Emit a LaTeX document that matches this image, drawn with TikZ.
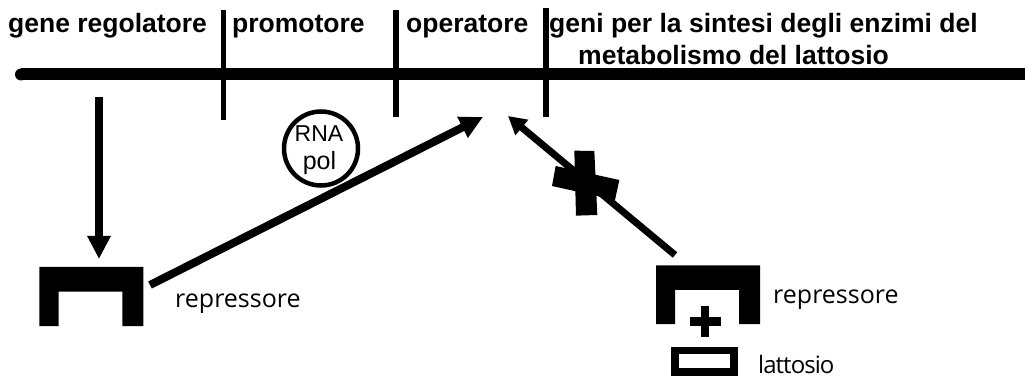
\documentclass[tikz,border=0pt]{standalone}
\usepackage{fontspec}
\setmainfont{Liberation Sans}
\newfontfamily\lblfont{Open Sans}
\newfontfamily\lblfonttight[LetterSpace=-4]{Open Sans}
\usetikzlibrary{arrows.meta}
\tikzset{
 head/.style={font=\bfseries\fontsize{26.5pt}{30pt}\selectfont,anchor=base west,inner sep=0},
 lbl/.style={font=\lblfont\fontsize{25pt}{28pt}\selectfont,anchor=base west,inner sep=0},
 lblsmall/.style={font=\lblfonttight\fontsize{24pt}{28pt}\selectfont,anchor=base west,inner sep=0},
 rnatext/.style={anchor=base,inner sep=0},
 tick/.style={line width=5.5pt},
 arrow/.style={line width=8pt,-{Triangle[length=23pt,width=22pt]}},
 arrowthin/.style={line width=7pt,-{Triangle[length=18pt,width=19pt]}},
 solid shape/.style={fill=black,draw=none}
}
\begin{document}
\begin{tikzpicture}[x=1pt,y=-1pt]
\useasboundingbox (0,0) rectangle (1025,379);
\node[head] (t1) at (8,33) {gene regolatore};
\node[head] (t2) at (232,33) {promotore};
\node[head] (t3) at (406,33) {operatore};
\node[head] (t4) at (549,33) {geni per la sintesi degli enzimi del};
\node[head] (t5) at (578,65) {metabolismo del lattosio};
\draw[line width=12pt] (21,74.5) -- (1025,74.5);
\fill (21,74.5) circle[radius=6pt];
\draw[tick] (223.3,10) -- (223.3,120);
\draw[tick] (396,10) -- (396,117);
\draw[tick] (546,8) -- (546,117);
\coordinate (a1s) at (99,97); \coordinate (a1e) at (99,259);
\draw[arrow] (a1s) -- (a1e);
\coordinate (a2s) at (150,285); \coordinate (a2e) at (483,117);
\draw[arrow] (a2s) -- (a2e);
\coordinate (a3s) at (675,255); \coordinate (a3e) at (508,116);
\draw[arrowthin] (a3s) -- (a3e);
\node[circle,draw,line width=4.5pt,minimum size=74pt,inner sep=0] (rna) at (321,148.5) {};
\node[rnatext,font=\fontsize{23pt}{28pt}\selectfont] (rna1) at (319,142) {RNA};
\node[rnatext,font=\fontsize{25pt}{28pt}\selectfont] (rna2) at (319.5,170) {pol};
\path[solid shape] (39.3,267) -- (143.3,267) -- (143.3,326) -- (122.3,326) -- (122.3,291.7) -- (58.7,291.7) -- (58.7,326) -- (39.3,326) -- cycle;
\path[solid shape] (656,265.3) -- (760,265.3) -- (760,324) -- (739,324) -- (739,290) -- (675,290) -- (675,324) -- (656,324) -- cycle;
\path[solid shape] (689.7,317.3) rectangle (720.7,326);
\path[solid shape] (700.7,305.7) rectangle (709.3,336.7);
\draw[line width=7.5pt] (675,350.7) rectangle (734,372);
\begin{scope}[shift={(540,100)},x=0.3333pt,y=-0.3333pt]
\path[solid shape] (103,152) -- (163,153) -- (172,345) -- (108,347) -- cycle;
\path[solid shape] (47,198) -- (36,258) -- (225,300) -- (238,240) -- cycle;
\end{scope}
\node[lbl] (r1) at (175,308) {repressore};
\node[lbl] (r2) at (773,303) {repressore};
\node[lblsmall] (l) at (758,373) {lattosio};
\end{tikzpicture}
\end{document}
